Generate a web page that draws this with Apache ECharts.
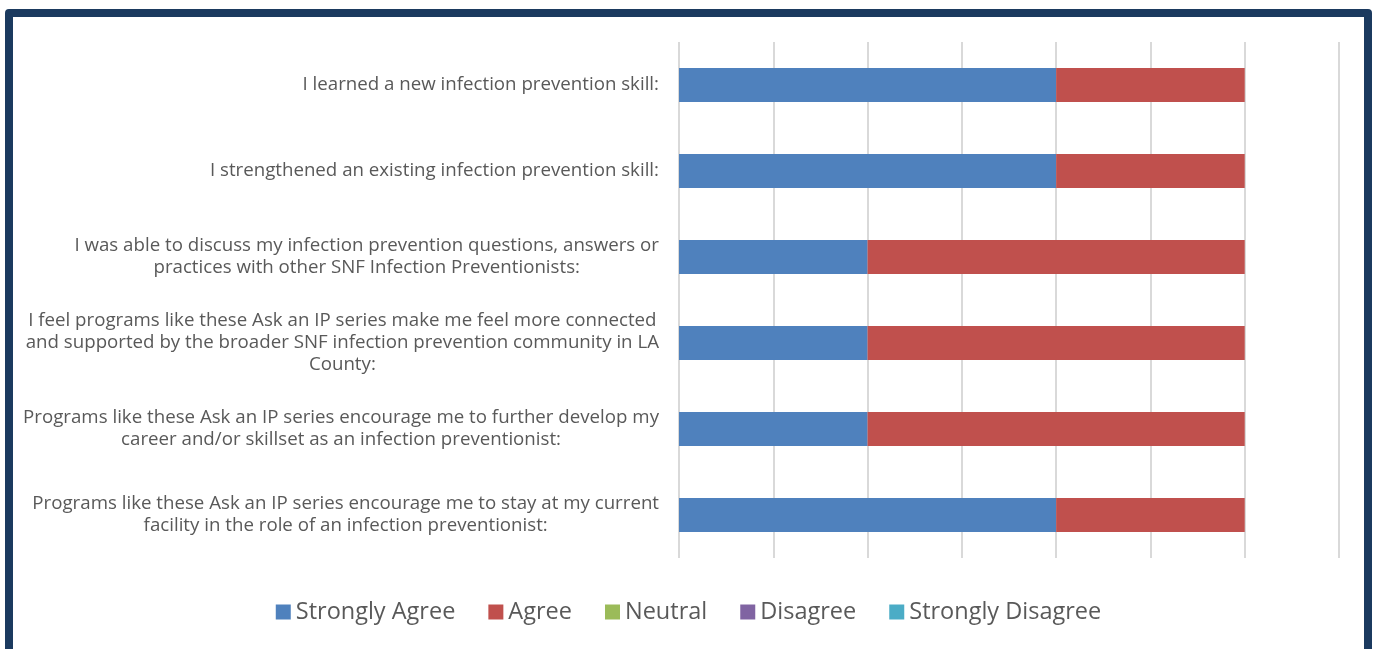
<!DOCTYPE html>
<html>
<head>
<meta charset="utf-8">
<script src="https://cdn.jsdelivr.net/npm/echarts@6/dist/echarts.min.js"></script>
<style>
	html, body { margin: 0; padding: 0; background: #fff; overflow: hidden; }
	#container { width: 1377px; height: 649px; }
	#frame {
		position: absolute; left: 5px; top: 9px; width: 1351px; height: 660px;
		border: 8px solid #1b3a5f; border-radius: 4px; pointer-events: none;
	}
</style>
</head>
<body>
<div id="container"></div>
<div id="frame"></div>
<script>
// 题目（每行一个数组元素，用于换行）
var categories = [
	['I learned a new infection prevention skill:'],
	['I strengthened an existing infection prevention skill:'],
	['I was able to discuss my infection prevention questions, answers or', 'practices with other SNF Infection Preventionists:'],
	['I feel programs like these Ask an IP series make me feel more connected', 'and supported by the broader SNF infection prevention community in LA', 'County:'],
	['Programs like these Ask an IP series encourage me to further develop my', 'career and/or skillset as an infection preventionist:'],
	['Programs like these Ask an IP series encourage me to stay at my current', 'facility in the role of an infection preventionist:']
];
var seriesNames = ['Strongly Agree', 'Agree', 'Neutral', 'Disagree', 'Strongly Disagree'];
var stronglyAgree = [4, 4, 2, 2, 2, 4];
var agree = [2, 2, 4, 4, 4, 2];
var neutral = [0, 0, 0, 0, 0, 0];
var disagree = [0, 0, 0, 0, 0, 0];
var stronglyDisagree = [0, 0, 0, 0, 0, 0];
var colors = ['#4f81bd', '#c0504d', '#9bbb59', '#8064a2', '#4bacc6'];

var dom = document.getElementById('container');
var myChart = echarts.init(dom);
var allData = [stronglyAgree, agree, neutral, disagree, stronglyDisagree];

var series = [];
for (var i = 0; i < seriesNames.length; i++) {
	series.push({
		name: seriesNames[i],
		type: 'bar',
		stack: 'total',
		barWidth: 34,
		itemStyle: { color: colors[i] },
		data: allData[i]
	});
}

myChart.setOption({
	animation: false,
	color: colors,
	textStyle: { fontFamily: 'Open Sans' },
	grid: {
		left: 679,
		right: 38,
		top: 42,
		bottom: 91
	},
	legend: {
		bottom: 20,
		left: 'center',
		itemWidth: 15,
		itemHeight: 15,
		itemGap: 33,
		icon: 'rect',
		textStyle: { color: '#595959', fontSize: 23.5, fontFamily: 'Open Sans' },
		data: seriesNames
	},
	xAxis: {
		type: 'value',
		min: 0,
		max: 7,
		interval: 1,
		axisLabel: { show: false },
		axisLine: { show: false },
		axisTick: { show: false },
		splitLine: { show: true, lineStyle: { color: '#d9d9d9', width: 2 } }
	},
	yAxis: {
		type: 'category',
		inverse: true,
		axisLine: { show: false },
		axisTick: { show: false },
		data: categories.map(function (c) { return c.join('\n'); }),
		axisLabel: {
			margin: 20,
			color: '#595959',
			fontSize: 18.7,
			lineHeight: 22,
			fontFamily: 'Open Sans',
			formatter: function (value) {
				// 多行居中，整体右对齐
				return value.split('\n').map(function (s) { return '{c|' + s + '}'; }).join('\n');
			},
			rich: {
				c: { align: 'center', color: '#595959', fontSize: 18.7, lineHeight: 22, fontFamily: 'Open Sans' }
			}
		}
	},
	series: series
});
</script>
</body>
</html>
